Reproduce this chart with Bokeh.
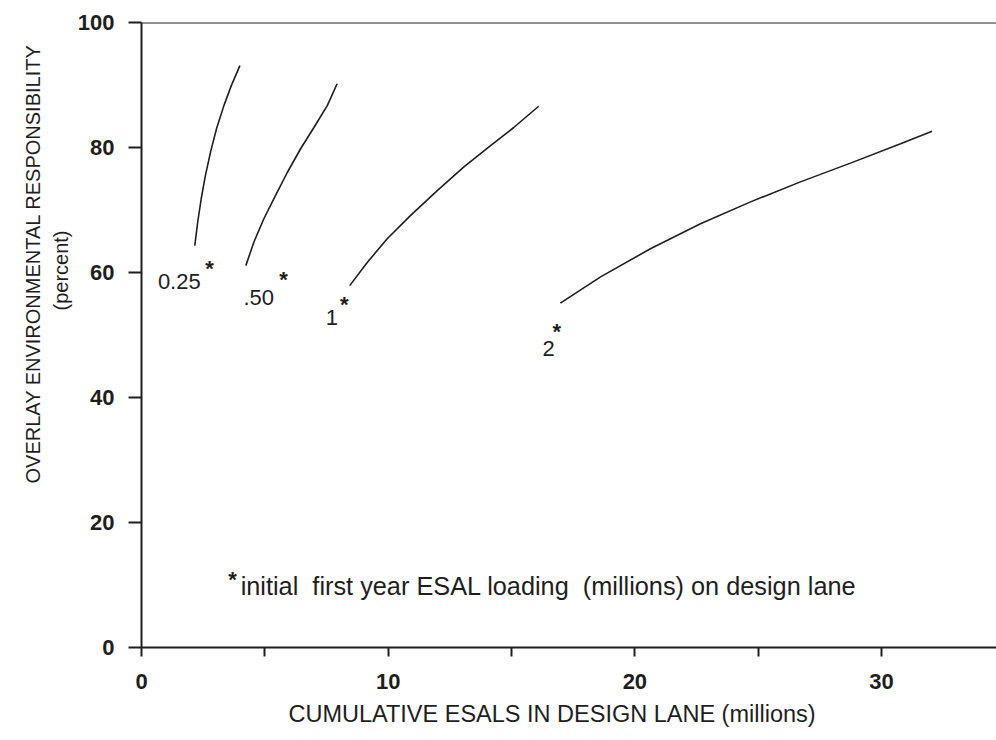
from bokeh.plotting import figure
from bokeh.models import Range1d, FixedTicker, Span, Title
from bokeh.embed import file_html
from bokeh.resources import INLINE
from bokeh.core.properties import value

# ---- data ----
c025_x = [2.16, 2.28, 2.42, 2.59, 2.80, 3.04, 3.34, 3.64, 3.99]
c025_y = [64.3, 68.1, 71.8, 75.5, 79.3, 83.0, 86.7, 89.9, 93.1]
c050_x = [4.23, 4.55, 4.96, 5.43, 5.91, 6.45, 6.99, 7.53, 7.93]
c050_y = [61.1, 64.8, 68.6, 72.3, 76.0, 79.8, 83.2, 86.7, 90.2]
c1_x = [8.44, 9.15, 9.96, 10.90, 11.99, 13.07, 14.15, 15.09, 16.10]
c1_y = [57.9, 61.6, 65.4, 69.1, 73.1, 76.9, 80.3, 83.2, 86.6]
c2_x = [16.98, 18.61, 20.63, 22.66, 24.69, 26.71, 28.74, 30.77, 32.05]
c2_y = [55.1, 59.3, 63.8, 67.8, 71.3, 74.5, 77.5, 80.6, 82.6]

label_text = ["0.25", ".50", "1", "2"]
label_x = [2.40, 5.37, 7.97, 16.75]
label_y = [58.6, 56.0, 52.8, 47.8]
star_x = [2.76, 5.76, 8.22, 16.83, 3.69]
star_y = [61.0, 59.2, 55.2, 50.9, 11.25]

note_text = "initial\u00a0 first year ESAL loading\u00a0 (millions) on design lane"
note_x = 4.02
note_y = 9.9

x_ticks = [0, 10, 20, 30]
x_minor = [5, 15, 25]
y_ticks = [0, 20, 40, 60, 80, 100]

x_title = "CUMULATIVE ESALS IN DESIGN LANE (millions)"
y_title = "OVERLAY ENVIRONMENTAL RESPONSIBILITY"
y_subtitle = "(percent)"

FONT = "Liberation Sans"
INK = "#1e1e1e"

p = figure(width=996, height=740, output_backend="svg", toolbar_location=None,
           x_range=Range1d(0, 34.66), y_range=Range1d(0, 100),
           min_border_left=141, min_border_right=0, min_border_top=22,
           min_border_bottom=93)
p.outline_line_color = None
p.xgrid.grid_line_color = None
p.ygrid.grid_line_color = None
p.background_fill_color = "white"
p.border_fill_color = "white"

# x axis
xa = p.xaxis[0]
xa.ticker = FixedTicker(ticks=x_ticks, minor_ticks=x_minor)
xa.axis_line_width = 2
xa.axis_line_color = INK
xa.major_tick_in = 0
xa.major_tick_out = 9
xa.minor_tick_in = 0
xa.minor_tick_out = 9
xa.major_tick_line_width = 2
xa.minor_tick_line_width = 2
xa.major_tick_line_color = INK
xa.minor_tick_line_color = INK
xa.major_label_text_font = FONT
xa.major_label_text_font_size = "22px"
xa.major_label_text_font_style = "bold"
xa.major_label_text_color = INK
xa.major_label_standoff = 17

# y axis
ya = p.yaxis[0]
ya.ticker = FixedTicker(ticks=y_ticks, minor_ticks=[])
ya.axis_line_width = 2
ya.axis_line_color = INK
ya.major_tick_in = 0
ya.major_tick_out = 13
ya.major_tick_line_width = 2
ya.major_tick_line_color = INK
ya.major_label_text_font = FONT
ya.major_label_text_font_size = "22px"
ya.major_label_text_font_style = "bold"
ya.major_label_text_color = INK
ya.major_label_standoff = 14

# axis titles as side-panel titles (offset along the panel like the reference)
p.add_layout(Title(text=y_subtitle, align="left", offset=337, standoff=4,
                   vertical_align="middle", text_font=FONT, text_font_size="20px",
                   text_font_style="normal", text_color=INK), "left")
p.add_layout(Title(text=y_title, align="left", offset=164, standoff=4,
                   vertical_align="middle", text_font=FONT, text_font_size="20px",
                   text_font_style="normal", text_color=INK), "left")
p.add_layout(Title(text=x_title, align="left", offset=147, standoff=16,
                   vertical_align="middle", text_font=FONT, text_font_size="23.5px",
                   text_font_style="normal", text_color=INK), "below")

# top line at 100
p.add_layout(Span(location=100, dimension="width", line_color=INK, line_width=2))

# curves
for cx, cy in [(c025_x, c025_y), (c050_x, c050_y), (c1_x, c1_y), (c2_x, c2_y)]:
    p.line(cx, cy, line_color=INK, line_width=1.6)

# curve labels
p.text(x=label_x, y=label_y, text=label_text, text_font=value(FONT),
       text_font_size="22px", text_align="right", text_baseline="middle",
       text_color=INK)
# asterisks
p.text(x=star_x, y=star_y, text=["*"] * len(star_x), text_font=value(FONT),
       text_font_size="22px", text_font_style="bold", text_align="center",
       text_baseline="alphabetic", y_offset=2, text_color=INK)
# note
p.text(x=[note_x], y=[note_y], text=[note_text], text_font=value(FONT),
       text_font_size="25.3px", text_align="left", text_baseline="middle",
       text_color=INK)

open("out.html", "w").write(file_html(p, INLINE))
